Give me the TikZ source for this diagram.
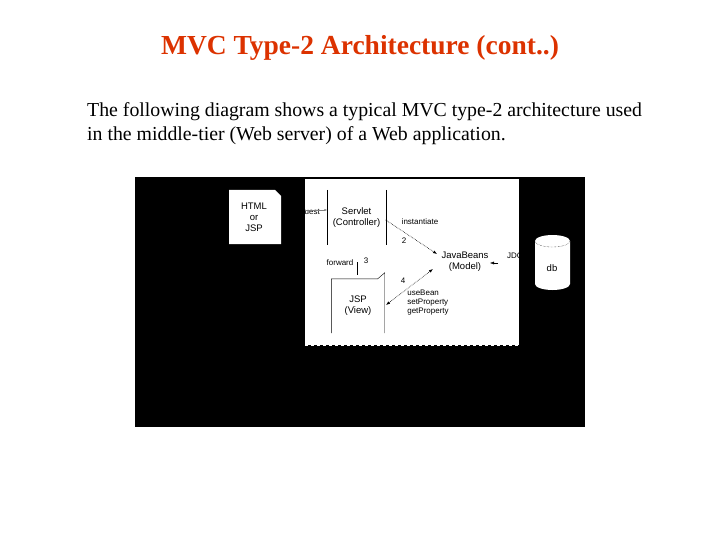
\documentclass[tikz,border=0pt]{standalone}
\usepackage{fontspec}
\setmainfont{Liberation Serif}
\newfontfamily\arial{Liberation Sans}
\usetikzlibrary{arrows.meta}
\begin{document}
\begin{tikzpicture}[x=1pt,y=-1pt,
  lbl/.style={font=\arial\fontsize{8}{9}\selectfont,text=black,inner sep=0pt,align=center},
  big/.style={font=\arial\fontsize{9.5}{11}\selectfont},
  dots/.style={densely dotted,line width=0.6pt,-{Latex[length=4pt]}}]
\useasboundingbox (0,0) rectangle (720,540);
\node (title) at (360,48) {\fontsize{27.5}{30}\selectfont\bfseries\color[RGB]{220,50,0}MVC Type-2 Architecture (cont..)};
\node[anchor=west,align=left,font=\fontsize{19.8}{24}\selectfont,inner sep=0pt] (body) at (87,124)
 {The following diagram shows a typical MVC type-2 architecture used\\in the middle-tier (Web server) of a Web application.};
\fill[black] (135,177) rectangle (585,427);
\fill[white] (305,179) rectangle (519,345);
\draw[white,dashed,line width=0.8pt] (305,345) -- (519,345);
% HTML doc
\fill[white] (229,190) -- (275,190) -- (281,196) -- (281,244) -- (229,244) -- cycle;
\node[lbl,big] (html) at (254,217) {HTML\\or\\JSP};
% Servlet
\node[minimum width=58pt,minimum height=55pt,inner sep=0pt] (srv) at (356.5,217.5) {};
\draw (srv.north west) -- (srv.south west) (srv.north east) -- (srv.south east);
\node[lbl,big] at (srv) {Servlet\\(Controller)};
\coordinate (reqs) at (305,210);
\node[lbl,anchor=east] (req) at (320,212) {uest};
\draw[-{Latex[length=3pt]},gray] (reqs) -- (srv.west |- reqs);
% JSP
\node[minimum width=53pt,minimum height=54pt,inner sep=0pt] (jsp) at (358,306) {};
\draw (jsp.south west) -- (jsp.north west) -- ([xshift=-7pt]jsp.north east) -- ([yshift=6pt]jsp.north east) -- (jsp.south east);
\node[lbl,big] at (jsp) {JSP\\(View)};
% JavaBeans
\node[lbl,big] (jb) at (465,262) {JavaBeans\\(Model)};
\draw[dots] (srv.east |- 0,220) -- (437,254);
\node[lbl] (inst) at (420,222) {instantiate};
\node[lbl] (n2) at (404,241) {2};
\draw[dots,{Latex[length=4pt]}-{Latex[length=4pt]}] (386,305) -- (433,269);
\node[lbl] (n4) at (403,281) {4};
\node[lbl,align=left] (ub) at (428,303) {useBean\\setProperty\\getProperty};
\coordinate (fw1) at (357,262);
\draw (fw1) -- (357,275);
\node[lbl] (fwd) at (340,263) {forward};
\node[lbl] (n3) at (366,261) {3};
\draw[-{Latex[length=4pt]}] (498,263) -- (490,263);
\node[lbl,anchor=west] (jdbc) at (507,256) {JDC};
% db
\fill[white] (535,241) -- (535,284) arc[start angle=180,end angle=0,x radius=17.5,y radius=6] -- (570,241) -- cycle;
\fill[white] (552.5,241) ellipse[x radius=17.5,y radius=6];
\draw[densely dotted] (535,241) arc[start angle=180,end angle=0,x radius=17.5,y radius=6];
\node[lbl,big] (db) at (552,268) {db};
\end{tikzpicture}
\end{document}
